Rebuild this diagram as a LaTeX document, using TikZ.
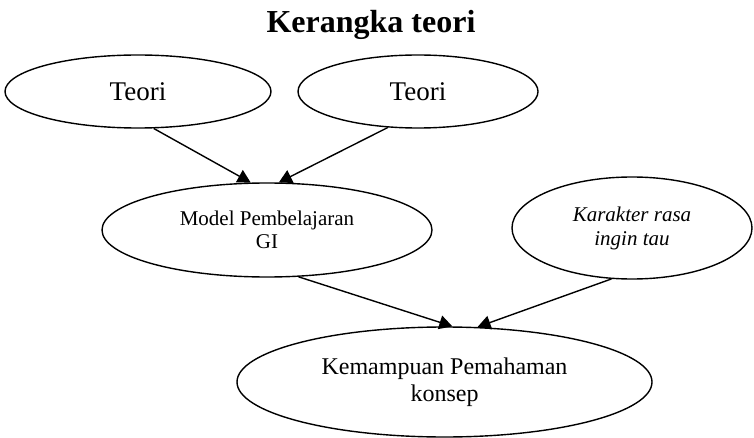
\documentclass[tikz,border=0pt]{standalone}
\usepackage{fontspec}
\setmainfont{Liberation Serif}
\usetikzlibrary{shapes.geometric,arrows.meta}
\tikzset{
  oval/.style={draw=black, line width=1.4pt, ellipse, inner sep=0pt, align=center},
  link/.style={draw=black, line width=1.4pt, -{Triangle[length=13pt,width=14pt]}},
}
\begin{document}
\begin{tikzpicture}[x=1pt,y=-1pt]
\useasboundingbox (0,0) rectangle (754,438);
\node[anchor=base, font=\fontsize{32}{36}\selectfont\bfseries] (title) at (371,33) {Kerangka teori};
\node[oval, minimum width=266pt, minimum height=73pt, font=\fontsize{27}{30}\selectfont] (L) at (138,91.5) {Teori};
\node[oval, minimum width=240pt, minimum height=73pt, font=\fontsize{27}{30}\selectfont] (R) at (418,91.5) {Teori};
\node[oval, minimum width=330pt, minimum height=94pt, font=\fontsize{21}{23.5}\selectfont] (M) at (267,230) {Model Pembelajaran\\GI};
\node[oval, minimum width=240pt, minimum height=102pt, font=\fontsize{21}{24}\selectfont\itshape] (C) at (632,228) {Karakter rasa\\ingin tau};
\node[oval, minimum width=415pt, minimum height=110pt, font=\fontsize{24}{27}\selectfont] (K) at (444.5,382) {Kemampuan Pemahaman\\konsep};
\draw[link] (L.-67.7) -- (M.109.5);
\draw[link] (R.-130.3) -- (M.76);
\draw[link] (M.-56) -- (K.82);
\draw[link] (C.-112) -- (K.59.4);
\end{tikzpicture}
\end{document}
